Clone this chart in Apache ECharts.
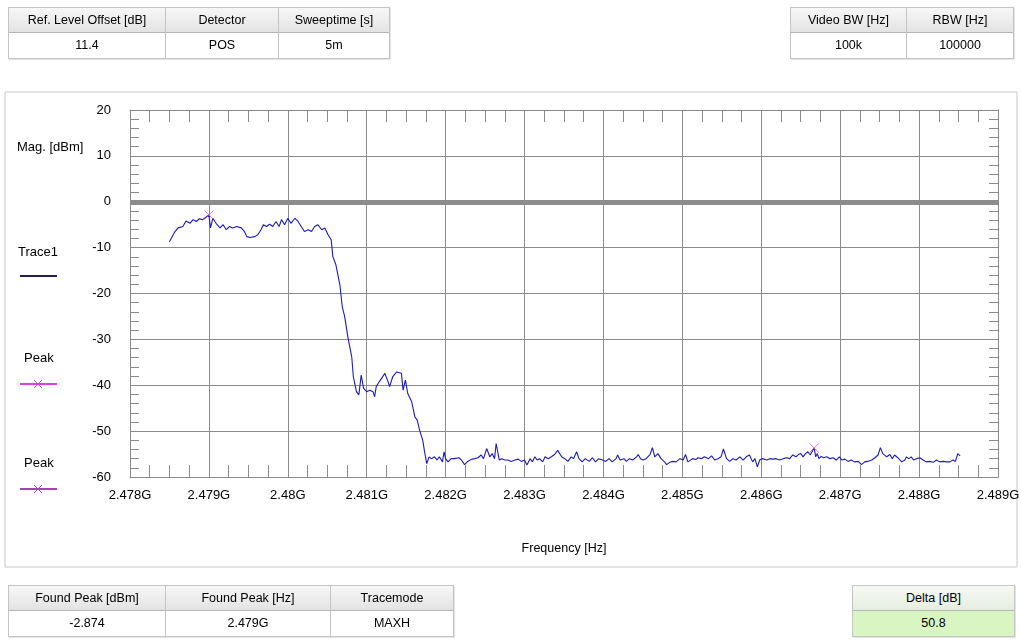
<!DOCTYPE html>
<html>
<head>
<meta charset="utf-8">
<script src="https://cdn.jsdelivr.net/npm/echarts@6/dist/echarts.min.js"></script>
<style>
  html, body { margin: 0; padding: 0; background: #fff; }
  #wrap { position: relative; width: 1021px; height: 644px; overflow: hidden;
          font-family: "Liberation Sans", Arial, sans-serif; font-size: 12.5px; color: #000; }
  #chart { position: absolute; left: 0; top: 0; width: 1021px; height: 644px; }
  .tbl { position: absolute; display: flex; border: 1px solid #c4c4c4; background: #fff;
         box-shadow: 1px 1px 0 #e4e4e4; z-index: 2; }
  .col { border-right: 1px solid #c4c4c4; box-sizing: border-box; }
  .col:last-child { border-right: none; }
  .hd { height: 24px; line-height: 24px; text-align: center;
        background: linear-gradient(#f7f7f7, #e3e3e3); border-bottom: 1px solid #b4b4b4; }
  .vl { height: 25px; line-height: 25px; text-align: center; background: #fff; }
  .green .hd { background: linear-gradient(#f6f9f3, #e6eee0); }
  .green .vl { background: #d9f5c2; }
</style>
</head>
<body>
<div id="wrap">
  <div id="chart"></div>

  <div class="tbl" style="left:8px; top:7px;">
    <div class="col" style="width:157px"><div class="hd">Ref. Level Offset [dB]</div><div class="vl">11.4</div></div>
    <div class="col" style="width:113px"><div class="hd">Detector</div><div class="vl">POS</div></div>
    <div class="col" style="width:110px"><div class="hd">Sweeptime [s]</div><div class="vl">5m</div></div>
  </div>

  <div class="tbl" style="left:790px; top:7px;">
    <div class="col" style="width:116px"><div class="hd">Video BW [Hz]</div><div class="vl">100k</div></div>
    <div class="col" style="width:106px"><div class="hd">RBW [Hz]</div><div class="vl">100000</div></div>
  </div>

  <div class="tbl" style="left:8px; top:585px;">
    <div class="col" style="width:157px"><div class="hd">Found Peak [dBm]</div><div class="vl">-2.874</div></div>
    <div class="col" style="width:165px"><div class="hd">Found Peak [Hz]</div><div class="vl">2.479G</div></div>
    <div class="col" style="width:122px"><div class="hd">Tracemode</div><div class="vl">MAXH</div></div>
  </div>

  <div class="tbl green" style="left:852px; top:585px;">
    <div class="col" style="width:161px"><div class="hd">Delta [dB]</div><div class="vl">50.8</div></div>
  </div>
</div>

<script>
// Swept spectrum, Trace1 (MAXH), frequency in MHz and level in dBm
const traceFreqMHz = [
  2478.50, 2478.57, 2478.61, 2478.67, 2478.71, 2478.76, 2478.80, 2478.84, 2478.88, 2478.92,
  2479.00, 2479.02, 2479.05, 2479.09, 2479.14, 2479.18, 2479.22, 2479.26, 2479.30, 2479.35,
  2479.41, 2479.45, 2479.48, 2479.52, 2479.58, 2479.62, 2479.66, 2479.69, 2479.73, 2479.77,
  2479.81, 2479.85, 2479.89, 2479.92, 2479.96, 2480.00, 2480.04, 2480.09, 2480.13, 2480.17,
  2480.21, 2480.26, 2480.30, 2480.34, 2480.38, 2480.43, 2480.47, 2480.51, 2480.55, 2480.57,
  2480.61, 2480.66, 2480.69, 2480.72, 2480.76, 2480.81, 2480.83, 2480.87, 2480.90, 2480.93,
  2480.96, 2481.00, 2481.04, 2481.08, 2481.10, 2481.12, 2481.16, 2481.23, 2481.27, 2481.29,
  2481.33, 2481.38, 2481.44, 2481.46, 2481.49, 2481.52, 2481.57, 2481.61, 2481.64, 2481.67,
  2481.71, 2481.73, 2481.76,
  2481.79, 2481.82, 2481.86, 2481.89, 2481.92, 2481.96, 2481.98, 2482.00, 2482.03, 2482.07,
  2482.11, 2482.17, 2482.20, 2482.24, 2482.28, 2482.33, 2482.37, 2482.41, 2482.45, 2482.48,
  2482.52, 2482.56, 2482.59, 2482.62, 2482.64, 2482.68, 2482.71, 2482.75, 2482.79, 2482.83,
  2482.88, 2482.92, 2482.96, 2483.00, 2483.03, 2483.07, 2483.10, 2483.13, 2483.16, 2483.19,
  2483.23, 2483.26, 2483.30, 2483.34, 2483.38, 2483.42, 2483.47, 2483.51, 2483.55, 2483.59,
  2483.62, 2483.66, 2483.69, 2483.73, 2483.77, 2483.82, 2483.86, 2483.90, 2483.94, 2483.99,
  2484.03, 2484.07, 2484.11, 2484.16, 2484.18, 2484.21, 2484.26, 2484.29, 2484.33, 2484.37,
  2484.42, 2484.44, 2484.47, 2484.50, 2484.54, 2484.59, 2484.62, 2484.65, 2484.69, 2484.73,
  2484.78, 2484.80, 2484.84, 2484.88, 2484.92, 2484.97, 2485.01, 2485.04, 2485.07,
  2485.09, 2485.13, 2485.17, 2485.20, 2485.24, 2485.28, 2485.33, 2485.37, 2485.41, 2485.45,
  2485.49, 2485.52, 2485.56, 2485.60, 2485.64, 2485.68, 2485.73, 2485.77, 2485.81, 2485.85,
  2485.89, 2485.92, 2485.95, 2485.98, 2486.01, 2486.07, 2486.11, 2486.15, 2486.19, 2486.23,
  2486.28, 2486.32, 2486.36, 2486.40, 2486.44, 2486.47, 2486.50, 2486.53, 2486.56, 2486.59,
  2486.62, 2486.67, 2486.69, 2486.71, 2486.73, 2486.76, 2486.79, 2486.83, 2486.87, 2486.91,
  2486.95, 2486.99, 2487.02, 2487.06, 2487.10, 2487.14, 2487.18, 2487.23, 2487.27, 2487.31,
  2487.35, 2487.40, 2487.44, 2487.48, 2487.51, 2487.54, 2487.56, 2487.59, 2487.63, 2487.66,
  2487.69, 2487.73, 2487.78, 2487.82, 2487.84, 2487.87, 2487.90, 2487.93, 2487.97, 2488.01,
  2488.05, 2488.09, 2488.13, 2488.18, 2488.22, 2488.26, 2488.30, 2488.35, 2488.39, 2488.43,
  2488.46, 2488.49, 2488.52
];
const traceLevel = [
  -8.7, -6.5, -5.7, -5.4, -4.2, -4.7, -3.9, -4.3, -3.7, -3.9,
  -2.874, -5.7, -3.6, -4.7, -5.7, -5.0, -6.1, -5.4, -5.7, -5.4,
  -5.7, -6.5, -7.6, -7.8, -7.6, -7.2, -6.1, -5.0, -5.4, -4.9,
  -5.4, -4.3, -5.4, -3.9, -5.0, -3.6, -4.7, -3.6, -4.3, -5.4,
  -6.5, -6.1, -6.5, -5.4, -5.0, -6.1, -5.7, -7.2, -8.3, -11.9,
  -13.8, -18.1, -22.9, -25.0, -29.4, -33.8, -38.1, -41.4, -42.1, -37.8,
  -40.7, -41.4, -41.1, -41.4, -42.5, -40.3, -39.2, -37.4, -39.2, -40.3,
  -38.1, -37.1, -37.4, -41.1, -38.9, -41.8, -43.6, -46.9, -47.6, -49.8,
  -52.0, -54.2, -57.1,
  -55.6, -56.0, -55.6, -56.3, -55.6, -56.7, -54.5, -56.0, -56.7, -56.0,
  -56.0, -55.8, -56.3, -57.3, -56.6, -56.1, -56.0, -55.8, -55.2, -56.0,
  -53.8, -55.6, -54.9, -56.0, -52.7, -56.3, -56.0, -56.3, -56.3, -56.6,
  -56.3, -56.1, -56.6, -56.3, -57.4, -56.0, -56.7, -55.6, -56.3, -56.0,
  -56.7, -55.6, -56.0, -55.6, -55.1, -54.2, -55.6, -56.0, -56.6, -55.6,
  -56.0, -54.5, -56.0, -56.7, -56.0, -56.6, -55.8, -56.7, -56.0, -56.3,
  -56.6, -56.0, -56.7, -56.0, -55.2, -56.3, -56.0, -56.6, -56.0, -56.3,
  -55.6, -55.1, -56.0, -56.3, -56.0, -55.1, -53.6, -55.6, -54.9, -56.0,
  -56.8, -57.3, -56.8, -56.6, -56.7, -56.0, -56.3, -55.1, -56.7,
  -56.7, -56.0, -56.2, -55.8, -56.0, -55.6, -56.0, -55.4, -56.3, -56.0,
  -55.6, -53.9, -56.0, -56.6, -56.0, -56.3, -55.6, -56.3, -55.6, -55.2,
  -56.7, -56.0, -57.8, -56.3, -56.0, -56.3, -56.0, -56.1, -56.0, -56.3,
  -56.0, -55.8, -56.0, -55.2, -55.6, -55.1, -54.9, -55.6, -54.9, -54.5,
  -55.2, -53.67, -55.6, -54.9, -56.0, -55.5, -55.8, -55.6, -56.0, -55.8,
  -56.3, -55.6, -56.3, -56.1, -56.6, -56.3, -56.7, -56.6, -57.3, -56.7,
  -56.6, -56.3, -55.8, -55.2, -53.6, -54.9, -54.5, -55.6, -55.1, -56.0,
  -55.2, -55.8, -56.7, -56.3, -55.6, -56.0, -55.6, -56.3, -56.0, -55.8,
  -56.3, -56.7, -56.6, -56.8, -56.3, -56.7, -56.6, -56.7, -56.7, -56.3,
  -56.6, -54.9, -55.4
];

// Marker positions: found peak and the delta marker (peak - 50.8 dB)
const peakFreqMHz = [2479.00, 2486.67];
const peakLevel = [-2.874, -53.674];

// Axis ranges and tick settings
const freqMin = 2478, freqMax = 2489, freqStep = 1;
const levelMin = -60, levelMax = 20, levelStep = 10;

const traceData = traceFreqMHz.map((f, i) => [f, traceLevel[i]]);
const peakData = peakFreqMHz.map((f, i) => [f, peakLevel[i]]);

const GRID = '#8a8a8a';
const FONT = '"Liberation Sans", Arial, sans-serif';
const xMark = 'path://M0,0L10,10M10,0L0,10';

function legendX(cx, cy, color) {
  return [
    { type: 'line', shape: { x1: 20, y1: cy, x2: 57, y2: cy }, style: { stroke: color, lineWidth: 2 } },
    { type: 'line', shape: { x1: cx - 4, y1: cy - 4, x2: cx + 4, y2: cy + 4 }, style: { stroke: color, lineWidth: 1 } },
    { type: 'line', shape: { x1: cx - 4, y1: cy + 4, x2: cx + 4, y2: cy - 4 }, style: { stroke: color, lineWidth: 1 } }
  ];
}

const chart = echarts.init(document.getElementById('chart'), null, { renderer: 'canvas' });

const baseX = {
  type: 'value', min: freqMin, max: freqMax, interval: freqStep,
  axisLine: { show: true, onZero: false, lineStyle: { color: GRID, width: 1 } },
  axisTick: { show: true, inside: true, length: 12, lineStyle: { color: GRID } },
  minorTick: { show: true, splitNumber: 4, length: 12, lineStyle: { color: GRID } },
  splitLine: { show: false }
};
const baseY = {
  type: 'value', min: levelMin, max: levelMax, interval: levelStep,
  axisLine: { show: true, onZero: false, lineStyle: { color: GRID, width: 1 } },
  axisTick: { show: true, inside: true, length: 9, lineStyle: { color: GRID } },
  minorTick: { show: true, splitNumber: 5, length: 9, lineStyle: { color: GRID } },
  splitLine: { show: false }
};

chart.setOption({
  animation: false,
  backgroundColor: '#fff',
  textStyle: { fontFamily: FONT },
  grid: { left: 130, top: 110, right: 23, bottom: 167, containLabel: false, outerBoundsMode: 'none' },
  xAxis: [
    Object.assign({}, baseX, {
      position: 'bottom',
      name: 'Frequency [Hz]', nameLocation: 'middle', nameGap: 65,
      nameTextStyle: { fontSize: 12.5, color: '#000', fontFamily: FONT },
      axisLabel: { show: true, margin: 12, fontSize: 13, color: '#000', fontFamily: FONT,
                   formatter: v => (v / 1000).toString() + 'G' },
      splitLine: { show: true, lineStyle: { color: GRID, width: 1 } }
    }),
    Object.assign({}, baseX, { position: 'top', axisLabel: { show: false } })
  ],
  yAxis: [
    Object.assign({}, baseY, {
      position: 'left',
      axisLabel: { show: true, margin: 19, fontSize: 13, color: '#000', fontFamily: FONT },
      splitLine: { show: true, lineStyle: { color: GRID, width: 1 } }
    }),
    Object.assign({}, baseY, { position: 'right', axisLabel: { show: false } })
  ],
  graphic: [
    { type: 'rect', z: -10, shape: { x: 5, y: 92, width: 1012, height: 475 },
      style: { fill: '#fff', stroke: '#c8c8c8', lineWidth: 1 } },
    { type: 'text', left: 17, top: 141, style: { text: 'Mag. [dBm]', font: '13px ' + FONT, fill: '#000' } },
    { type: 'text', left: 18, top: 246, style: { text: 'Trace1', font: '13px ' + FONT, fill: '#000' } },
    { type: 'line', shape: { x1: 20, y1: 276, x2: 57, y2: 276 }, style: { stroke: '#1e1e52', lineWidth: 2 } },
    { type: 'text', left: 24, top: 352, style: { text: 'Peak', font: '13px ' + FONT, fill: '#000' } },
    ...legendX(38, 384, '#e040e0'),
    { type: 'text', left: 24, top: 457, style: { text: 'Peak', font: '13px ' + FONT, fill: '#000' } },
    ...legendX(38, 489, '#a444b0')
  ],
  series: [
    {
      name: 'Trace1', type: 'line', xAxisIndex: 0, yAxisIndex: 0,
      data: traceData, showSymbol: false, symbol: 'none',
      lineStyle: { color: '#1c1cb8', width: 1.1 },
      z: 3,
      markLine: {
        silent: true, symbol: 'none', label: { show: false },
        lineStyle: { color: '#8c8c8c', width: 5, type: 'solid' },
        data: [{ yAxis: 0 }],
        z: 2
      }
    },
    {
      name: 'Peak', type: 'scatter', xAxisIndex: 0, yAxisIndex: 0,
      data: peakData, symbol: xMark, symbolSize: 9,
      itemStyle: { color: 'none', borderColor: '#d84cd8', borderWidth: 1 },
      z: 4
    }
  ]
});
</script>
</body>
</html>
